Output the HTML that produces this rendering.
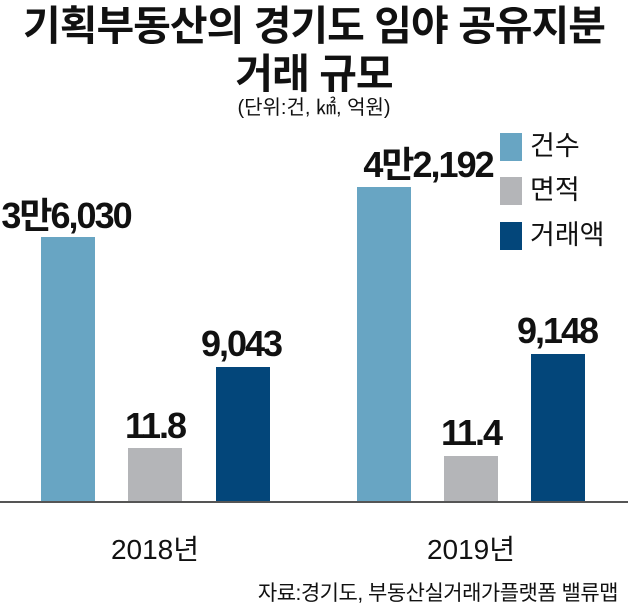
<!DOCTYPE html>
<html><head><meta charset="utf-8"><style>
body{margin:0;background:#fff;width:628px;height:607px;overflow:hidden;position:relative;font-family:"Liberation Sans","Noto Sans CJK KR",sans-serif;color:#111}
.t{position:absolute;white-space:nowrap}
.bar{position:absolute;width:54px}
.b{background:#68a5c3}.g{background:#b4b5b8}.n{background:#03467a}
.v{position:absolute;white-space:nowrap;font-weight:bold;font-size:36px;letter-spacing:-2px;transform:translateX(-50%);line-height:1}
.lg{position:absolute;left:500px;width:22px;height:28px}
.lt{position:absolute;left:530px;font-size:27px;line-height:1}
</style></head><body>
<div class="t" style="left:0;width:628px;text-align:center;top:2px;font-size:41px;font-weight:bold;line-height:48px;letter-spacing:-1px">기획부동산의 경기도 임야 공유지분<br>거래 규모</div>
<div class="t" style="left:0;width:628px;text-align:center;top:96px;font-size:20px;line-height:24px">(단위:건, ㎢, 억원)</div>

<div class="bar b" style="left:41px;top:237px;height:265px"></div>
<div class="bar g" style="left:128px;top:448px;height:54px"></div>
<div class="bar n" style="left:216px;top:367px;height:135px"></div>
<div class="bar b" style="left:357px;top:187px;height:315px"></div>
<div class="bar g" style="left:444px;top:456px;height:46px"></div>
<div class="bar n" style="left:531px;top:354px;height:148px"></div>
<div style="position:absolute;left:0;top:501px;width:628px;height:2px;background:#555"></div>

<div class="v" style="left:66px;top:198px">3만6,030</div>
<div class="v" style="left:155px;top:408px">11.8</div>
<div class="v" style="left:241px;top:326px">9,043</div>
<div class="v" style="left:428px;top:147px">4만2,192</div>
<div class="v" style="left:471px;top:415px">11.4</div>
<div class="v" style="left:557px;top:313px">9,148</div>

<div class="lg b" style="top:133px"></div><div class="lt" style="top:133px">건수</div>
<div class="lg g" style="top:177px"></div><div class="lt" style="top:177px">면적</div>
<div class="lg n" style="top:222px"></div><div class="lt" style="top:222px">거래액</div>

<div class="t" style="left:155px;top:528px;font-size:28px;transform:translateX(-50%)">2018년</div>
<div class="t" style="left:471px;top:528px;font-size:28px;transform:translateX(-50%)">2019년</div>
<div class="t" style="right:10px;top:577px;font-size:21px;letter-spacing:-0.5px">자료:경기도, 부동산실거래가플랫폼 밸류맵</div>
</body></html>
